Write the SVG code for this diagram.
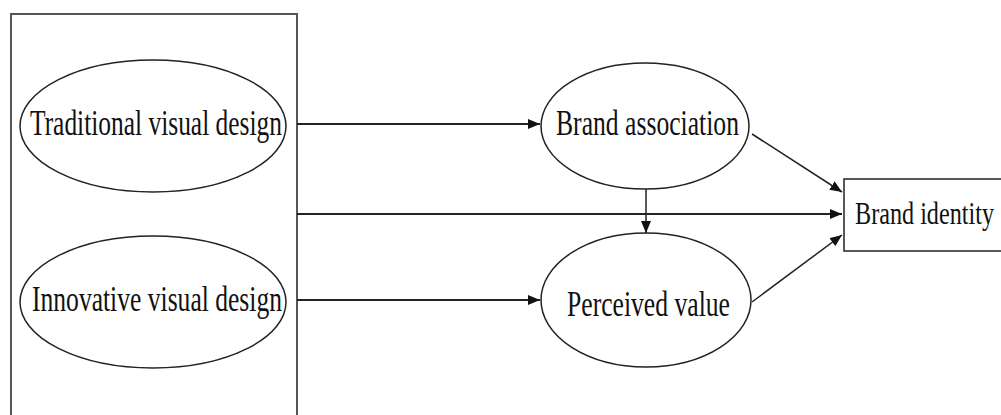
<svg xmlns="http://www.w3.org/2000/svg" width="1001" height="415" viewBox="0 0 1001 415">
<style>
.shape{fill:#fff;stroke:#222;stroke-width:1.5}
.frame{fill:none;stroke:#555;stroke-width:2}
.lbl{font-family:"Liberation Serif","Times New Roman",serif;font-size:35px;fill:#111}
.small{font-size:32px}
.conn{stroke:#222;stroke-width:2;fill:none}
.thin{stroke-width:1.5}
</style>
<defs>
<marker id="ah" viewBox="0 0 12 10" refX="12" refY="5" markerWidth="12" markerHeight="10" markerUnits="userSpaceOnUse" orient="auto">
<path d="M0,0 L12,5 L0,10 z" fill="#111"/>
</marker>
</defs>
<rect width="1001" height="415" fill="#fff"/>
<g id="frame"><path class="frame" d="M11,416 V14 H297 V416"/></g>
<g id="traditional">
<ellipse class="shape" cx="153" cy="126" rx="133" ry="66"/>
<text class="lbl" x="30" y="135" textLength="252" lengthAdjust="spacingAndGlyphs">Traditional visual design</text>
</g>
<g id="innovative">
<ellipse class="shape" cx="153" cy="302" rx="133" ry="66"/>
<text class="lbl" x="32" y="311" textLength="250" lengthAdjust="spacingAndGlyphs">Innovative visual design</text>
</g>
<g id="brand-association">
<ellipse class="shape" cx="645" cy="126" rx="104" ry="63"/>
<text class="lbl" x="556" y="135" textLength="183" lengthAdjust="spacingAndGlyphs">Brand association</text>
</g>
<g id="perceived-value">
<ellipse class="shape" cx="646" cy="300" rx="105" ry="67"/>
<text class="lbl" x="567" y="316" textLength="163" lengthAdjust="spacingAndGlyphs">Perceived value</text>
</g>
<g id="brand-identity">
<rect class="shape" x="844" y="179" width="160" height="72"/>
<text class="lbl small" x="855" y="224" textLength="139" lengthAdjust="spacingAndGlyphs">Brand identity</text>
</g>
<g id="connectors">
<line class="conn" x1="297" y1="124" x2="540" y2="124" marker-end="url(#ah)"/>
<line class="conn" x1="297" y1="300" x2="540" y2="300" marker-end="url(#ah)"/>
<line class="conn" x1="297" y1="214" x2="842" y2="214" marker-end="url(#ah)"/>
<line class="conn thin" x1="646" y1="189" x2="646" y2="233" marker-end="url(#ah)"/>
<line class="conn thin" x1="752" y1="134" x2="842" y2="192" marker-end="url(#ah)"/>
<line class="conn thin" x1="752" y1="302" x2="842" y2="235" marker-end="url(#ah)"/>
</g>
</svg>
